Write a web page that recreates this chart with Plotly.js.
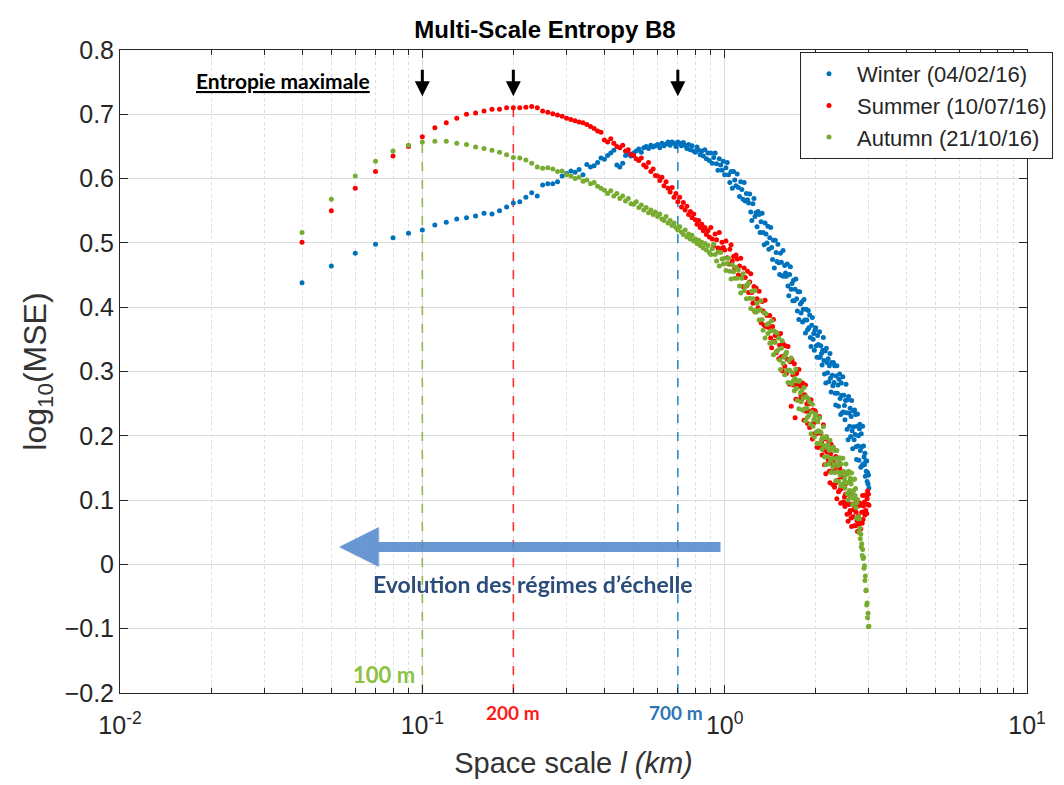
<!DOCTYPE html>
<html>
<head>
<meta charset="utf-8">
<script src="https://cdn.plot.ly/plotly-3.0.1.min.js"></script>
<style>html,body{margin:0;padding:0;background:#fff;}#chart{width:1064px;height:785px;}</style>
</head>
<body>
<div id="chart"></div>
<script>
// Space scale (km)
const scaleKm = [
0.04,0.05,0.06,0.07,0.08,0.09,
0.10,0.11,0.12,0.13,0.14,0.15,0.16,0.17,0.18,0.19,
0.20,0.21,0.22,0.23,0.24,0.25,0.26,0.27,0.28,0.29,
0.30,0.31,0.32,0.33,0.34,0.35,0.36,0.37,0.38,0.39,
0.40,0.41,0.42,0.43,0.44,0.45,0.46,0.47,0.48,0.49,
0.50,0.51,0.52,0.53,0.54,0.55,0.56,0.57,0.58,0.59,
0.60,0.61,0.62,0.63,0.64,0.65,0.66,0.67,0.68,0.69,
0.70,0.71,0.72,0.73,0.74,0.75,0.76,0.77,0.78,0.79,
0.80,0.81,0.82,0.83,0.84,0.85,0.86,0.87,0.88,0.89,
0.90,0.91,0.92,0.93,0.94,0.95,0.96,0.97,0.98,0.99,
1.00,1.01,1.02,1.03,1.04,1.05,1.06,1.07,1.08,1.09,
1.10,1.11,1.12,1.13,1.14,1.15,1.16,1.17,1.18,1.19,
1.20,1.21,1.22,1.23,1.24,1.25,1.26,1.27,1.28,1.29,
1.30,1.31,1.32,1.33,1.34,1.35,1.36,1.37,1.38,1.39,
1.40,1.41,1.42,1.43,1.44,1.45,1.46,1.47,1.48,1.49,
1.50,1.51,1.52,1.53,1.54,1.55,1.56,1.57,1.58,1.59,
1.60,1.61,1.62,1.63,1.64,1.65,1.66,1.67,1.68,1.69,
1.70,1.71,1.72,1.73,1.74,1.75,1.76,1.77,1.78,1.79,
1.80,1.81,1.82,1.83,1.84,1.85,1.86,1.87,1.88,1.89,
1.90,1.91,1.92,1.93,1.94,1.95,1.96,1.97,1.98,1.99,
2.00,2.01,2.02,2.03,2.04,2.05,2.06,2.07,2.08,2.09,
2.10,2.11,2.12,2.13,2.14,2.15,2.16,2.17,2.18,2.19,
2.20,2.21,2.22,2.23,2.24,2.25,2.26,2.27,2.28,2.29,
2.30,2.31,2.32,2.33,2.34,2.35,2.36,2.37,2.38,2.39,
2.40,2.41,2.42,2.43,2.44,2.45,2.46,2.47,2.48,2.49,
2.50,2.51,2.52,2.53,2.54,2.55,2.56,2.57,2.58,2.59,
2.60,2.61,2.62,2.63,2.64,2.65,2.66,2.67,2.68,2.69,
2.70,2.71,2.72,2.73,2.74,2.75,2.76,2.77,2.78,2.79,
2.80,2.81,2.82,2.83,2.84,2.85,2.86,2.87,2.88,2.89,
2.90,2.91,2.92,2.93,2.94,2.95,2.96,2.97,2.98,2.99,3.00
];

// log10(MSE) - Winter (04/02/16)
const winter = [
0.438,0.464,0.484,0.498,0.508,0.515,
0.520,0.528,0.532,0.537,0.539,0.542,0.546,0.545,0.550,0.556,
0.562,0.564,0.571,0.578,0.573,0.590,0.592,0.592,0.595,0.604,
0.608,0.612,0.610,0.614,0.606,0.622,0.618,0.620,0.625,0.632,
0.630,0.636,0.640,0.644,0.621,0.618,0.624,0.636,0.638,0.635,
0.640,0.643,0.646,0.641,0.648,0.650,0.647,0.652,0.649,0.651,
0.653,0.648,0.655,0.651,0.654,0.657,0.652,0.657,0.655,0.650,
0.657,0.655,0.651,0.656,0.652,0.647,0.653,0.645,0.651,0.643,
0.641,0.649,0.644,0.637,0.643,0.635,0.645,0.631,0.640,0.628,
0.640,0.624,0.633,0.640,0.623,0.613,0.631,0.621,0.613,0.627,
0.606,0.617,0.625,0.606,0.594,0.611,0.585,0.611,0.598,0.589,
0.607,0.586,0.572,0.595,0.583,0.568,0.594,0.565,0.577,0.567,
0.562,0.576,0.548,0.535,0.561,0.569,0.541,0.547,0.525,0.549,
0.544,0.516,0.533,0.546,0.516,0.497,0.531,0.514,0.500,0.526,
0.490,0.508,0.524,0.493,0.474,0.504,0.461,0.504,0.485,0.471,
0.498,0.469,0.451,0.484,0.470,0.449,0.488,0.448,0.465,0.453,
0.448,0.467,0.433,0.418,0.451,0.463,0.428,0.437,0.410,0.442,
0.410,0.428,0.444,0.413,0.394,0.424,0.381,0.424,0.405,0.391,
0.408,0.377,0.397,0.412,0.380,0.360,0.397,0.380,0.365,0.395,
0.368,0.388,0.353,0.339,0.372,0.384,0.350,0.359,0.333,0.364,
0.368,0.340,0.322,0.356,0.342,0.322,0.362,0.322,0.340,0.328,
0.310,0.333,0.353,0.317,0.296,0.332,0.282,0.336,0.314,0.298,
0.320,0.284,0.309,0.328,0.290,0.268,0.314,0.294,0.278,0.314,
0.283,0.309,0.266,0.248,0.293,0.309,0.266,0.279,0.246,0.288,
0.296,0.258,0.233,0.282,0.263,0.236,0.292,0.237,0.263,0.247,
0.225,0.255,0.280,0.236,0.210,0.256,0.194,0.261,0.235,0.215,
0.243,0.199,0.230,0.255,0.208,0.180,0.239,0.214,0.194,0.240,
0.202,0.233,0.183,0.163,0.215,0.234,0.184,0.200,0.162,0.211,
0.218,0.177,0.151,0.203,0.183,0.154,0.215,0.156,0.184,0.167,
0.155,0.173,0.137,0.161,0.145,0.161,0.129,0.143,0.125,0.139,0.119
];

// log10(MSE) - Summer (10/07/16)
const summer = [
0.501,0.550,0.585,0.611,0.635,0.650,
0.665,0.679,0.687,0.694,0.700,0.702,0.705,0.708,0.708,0.710,
0.710,0.710,0.711,0.712,0.710,0.705,0.703,0.701,0.699,0.697,
0.694,0.692,0.690,0.688,0.687,0.684,0.681,0.678,0.674,0.672,
0.660,0.657,0.662,0.655,0.650,0.648,0.652,0.643,0.645,0.638,
0.636,0.631,0.628,0.632,0.621,0.618,0.625,0.611,0.615,0.605,
0.604,0.597,0.602,0.589,0.595,0.585,0.579,0.586,0.571,0.577,
0.564,0.571,0.556,0.563,0.551,0.557,0.544,0.549,0.539,0.545,
0.536,0.529,0.535,0.524,0.529,0.519,0.524,0.513,0.519,0.509,
0.524,0.506,0.495,0.514,0.505,0.492,0.516,0.491,0.501,0.493,
0.489,0.503,0.477,0.467,0.490,0.497,0.472,0.479,0.460,0.481,
0.475,0.450,0.464,0.476,0.449,0.432,0.461,0.446,0.433,0.456,
0.423,0.439,0.452,0.423,0.406,0.432,0.393,0.430,0.413,0.399,
0.425,0.396,0.376,0.409,0.394,0.372,0.411,0.370,0.387,0.373,
0.368,0.387,0.352,0.337,0.370,0.381,0.347,0.356,0.329,0.360,
0.354,0.320,0.341,0.359,0.323,0.301,0.343,0.324,0.308,0.340,
0.297,0.319,0.339,0.302,0.280,0.315,0.246,0.318,0.295,0.279,
0.312,0.228,0.257,0.297,0.280,0.256,0.303,0.256,0.277,0.263,
0.257,0.282,0.240,0.224,0.264,0.279,0.238,0.250,0.219,0.257,
0.250,0.213,0.238,0.256,0.218,0.195,0.240,0.220,0.203,0.239,
0.236,0.203,0.182,0.222,0.205,0.182,0.230,0.183,0.204,0.190,
0.170,0.196,0.217,0.178,0.155,0.195,0.141,0.198,0.175,0.157,
0.163,0.189,0.145,0.127,0.172,0.187,0.144,0.157,0.124,0.165,
0.158,0.120,0.146,0.168,0.127,0.102,0.153,0.131,0.113,0.153,
0.149,0.116,0.095,0.136,0.119,0.096,0.144,0.097,0.119,0.105,
0.090,0.109,0.126,0.096,0.078,0.109,0.067,0.111,0.093,0.080,
0.084,0.105,0.072,0.059,0.094,0.107,0.074,0.085,0.060,0.093,
0.088,0.060,0.081,0.099,0.068,0.051,0.091,0.075,0.063,0.095,
0.095,0.070,0.055,0.092,0.081,0.064,0.107,0.070,0.091,0.082,
0.097,0.077,0.108,0.084,0.107,0.079,0.102,0.114,0.093,0.109,0.092
];

// log10(MSE) - Autumn (21/10/16)
const autumn = [
0.516,0.568,0.604,0.627,0.643,0.652,
0.657,0.658,0.658,0.655,0.653,0.649,0.647,0.644,0.641,0.637,
0.633,0.632,0.629,0.624,0.618,0.616,0.617,0.615,0.611,0.612,
0.606,0.604,0.600,0.602,0.596,0.598,0.592,0.594,0.588,0.585,
0.582,0.577,0.581,0.573,0.577,0.569,0.573,0.565,0.569,0.561,
0.560,0.564,0.555,0.559,0.551,0.555,0.547,0.551,0.544,0.548,
0.541,0.545,0.537,0.535,0.541,0.531,0.535,0.527,0.531,0.524,
0.520,0.525,0.517,0.513,0.520,0.509,0.514,0.506,0.512,0.503,
0.506,0.499,0.504,0.496,0.501,0.492,0.499,0.489,0.496,0.485,
0.482,0.491,0.498,0.482,0.472,0.486,0.464,0.485,0.475,0.467,
0.476,0.457,0.468,0.476,0.456,0.444,0.466,0.455,0.445,0.462,
0.445,0.458,0.433,0.422,0.445,0.452,0.426,0.433,0.413,0.435,
0.438,0.414,0.398,0.425,0.413,0.395,0.426,0.392,0.406,0.395,
0.380,0.396,0.410,0.381,0.364,0.391,0.352,0.390,0.373,0.359,
0.375,0.344,0.363,0.379,0.346,0.326,0.363,0.345,0.331,0.360,
0.333,0.352,0.318,0.303,0.336,0.348,0.313,0.322,0.295,0.327,
0.330,0.302,0.283,0.317,0.302,0.282,0.321,0.281,0.298,0.286,
0.270,0.289,0.304,0.274,0.255,0.285,0.242,0.286,0.267,0.253,
0.270,0.240,0.259,0.275,0.242,0.223,0.261,0.243,0.229,0.258,
0.232,0.252,0.218,0.203,0.237,0.249,0.215,0.225,0.198,0.230,
0.234,0.206,0.188,0.222,0.208,0.188,0.228,0.188,0.206,0.194,
0.179,0.198,0.214,0.185,0.167,0.197,0.155,0.199,0.182,0.168,
0.186,0.156,0.177,0.193,0.162,0.143,0.181,0.165,0.151,0.182,
0.156,0.177,0.143,0.130,0.165,0.177,0.144,0.154,0.129,0.161,
0.166,0.139,0.122,0.156,0.143,0.124,0.165,0.126,0.144,0.133,
0.119,0.139,0.156,0.127,0.110,0.141,0.100,0.145,0.128,0.115,
0.134,0.105,0.125,0.142,0.111,0.093,0.132,0.115,0.102,0.133,
0.107,0.118,0.088,0.072,0.096,0.101,0.071,0.074,0.050,0.071,
0.056,0.040,0.047,0.027,0.032,0.014,0.023,0.009,0.011,-0.006,
-0.002,-0.025,-0.018,-0.041,-0.040,-0.063,-0.060,-0.083,-0.076,-0.097,-0.096
];

const seriesNames = ['Winter (04/02/16)', 'Summer (10/07/16)', 'Autumn (21/10/16)'];
const seriesColors = ['#0072BD', '#FF0000', '#77AC30'];
const peakScales = [0.7, 0.2, 0.1];          // km, scale of maximal entropy
const peakLabels = ['700 m', '200 m', '100 m'];
const peakLabelColors = ['#2e75b6', '#ff1a1a', '#8cc23f'];
const arrowText = 'Evolution des régimes d’échelle';
const maxText = 'Entropie maximale';

const seriesData = [winter, summer, autumn];
const traces = [];

// dashed lines marking the scale of maximal entropy (drawn first, below the points)
seriesData.forEach((ys, i) => {
  const top = Math.max.apply(null, ys);
  traces.push({
    x: [peakScales[i], peakScales[i]], y: [-0.2, top],
    mode: 'lines', type: 'scatter', showlegend: false, hoverinfo: 'skip',
    line: {color: seriesColors[i], width: 1.6, dash: 'dash'}, opacity: 0.8
  });
});

seriesData.forEach((ys, i) => {
  traces.push({
    x: scaleKm, y: ys, name: seriesNames[i], type: 'scatter', mode: 'markers',
    marker: {color: seriesColors[i], size: 5}
  });
});

const minorTicks = [];
[0.01, 0.1, 1].forEach(d => { for (let k = 2; k <= 9; k++) minorTicks.push(+(d * k).toPrecision(3)); });

const labelFont = 'Lato, Open Sans, sans-serif';
const annotations = [];
// black arrows pointing to the maxima
peakScales.forEach(p => {
  annotations.push({
    x: Math.log10(p), y: 0.728, xref: 'x', yref: 'y', text: '', showarrow: true,
    ax: 0, ay: -28, arrowhead: 2, arrowsize: 1, arrowwidth: 3, arrowcolor: '#000', standoff: 0
  });
});
// labels of the peak scales
annotations.push({
  x: Math.log10(peakScales[2]), y: -0.2, xref: 'x', yref: 'y', text: '<b>' + peakLabels[2] + '</b>',
  showarrow: false, xanchor: 'right', yanchor: 'bottom', xshift: -5, yshift: 3,
  font: {family: labelFont, size: 22, color: peakLabelColors[2]}
});
[0, 1].forEach(i => {
  annotations.push({
    x: Math.log10(peakScales[i]), y: -0.2, xref: 'x', yref: 'y', text: '<b>' + peakLabels[i] + '</b>',
    showarrow: false, xanchor: 'center', yanchor: 'top', yshift: -6, xshift: i === 0 ? -2 : 0,
    font: {family: labelFont, size: 19, color: peakLabelColors[i]}
  });
});
annotations.push({
  x: (283 - 120) / 908, y: 0.752, xref: 'paper', yref: 'y', text: '<b><u>' + maxText + '</u></b>',
  showarrow: false, xanchor: 'center', yanchor: 'middle',
  font: {family: labelFont, size: 21, color: '#000'}
});
// big blue arrow
annotations.push({
  x: Math.log10(0.053), y: 0.027, xref: 'x', yref: 'y',
  ax: Math.log10(0.98), ay: 0.027, axref: 'x', ayref: 'y',
  text: '', showarrow: true, arrowhead: 2, arrowsize: 0.8, arrowwidth: 10,
  arrowcolor: 'rgba(84,137,203,0.88)', standoff: 0
});
annotations.push({
  x: Math.log10(0.232), y: -0.030, xref: 'x', yref: 'y', text: '<b>' + arrowText + '</b>',
  showarrow: false, xanchor: 'center', yanchor: 'middle',
  font: {family: labelFont, size: 23, color: '#2a4d7a'}
});

const layout = {
  width: 1064, height: 785,
  margin: {l: 120, r: 36, t: 50, b: 92},
  paper_bgcolor: '#fff', plot_bgcolor: '#fff',
  font: {family: 'Liberation Sans, Arial, sans-serif', color: '#262626'},
  title: {
    text: '<b>Multi-Scale Entropy B8</b>', x: 545 / 1064, xanchor: 'center', xref: 'container',
    y: 1 - 30 / 785, yanchor: 'middle', yref: 'container',
    font: {size: 24, color: '#000', family: 'Liberation Sans, Arial, sans-serif'}
  },
  xaxis: {
    type: 'log', range: [-2, 1],
    tickmode: 'array', tickvals: [0.01, 0.1, 1, 10],
    ticktext: ['10<sup>-2</sup>', '10<sup>-1</sup>', '10<sup>0</sup>', '10<sup>1</sup>'],
    tickfont: {size: 25, color: '#262626'}, ticklabelstandoff: 10,
    ticks: 'inside', ticklen: 8, tickcolor: '#262626',
    showline: true, linecolor: '#262626', linewidth: 1, mirror: 'ticks',
    showgrid: true, gridcolor: '#dcdcdc', gridwidth: 1, zeroline: false,
    minor: {tickmode: 'array', tickvals: minorTicks, ticks: 'inside', ticklen: 5, tickcolor: '#262626',
            showgrid: true, gridcolor: '#dedede', griddash: 'dot', gridwidth: 1},
    title: {text: 'Space scale <i>l (km)</i>', font: {size: 29, color: '#333'}, standoff: 14}
  },
  yaxis: {
    range: [-0.2, 0.8], dtick: 0.1, tick0: 0,
    tickfont: {size: 25, color: '#262626'},
    ticks: 'inside', ticklen: 8, tickcolor: '#262626',
    showline: true, linecolor: '#262626', linewidth: 1, mirror: 'ticks',
    showgrid: true, gridcolor: '#dcdcdc', gridwidth: 1, zeroline: false,
    title: {text: 'log<sub>10</sub>(MSE)', font: {size: 32, color: '#333'}, standoff: 8}
  },
  legend: {
    x: (800 - 120) / 908, y: (693 - 52) / 643, xanchor: 'left', yanchor: 'top',
    bgcolor: '#fff', bordercolor: '#262626', borderwidth: 1, itemwidth: 46,
    font: {size: 22, color: '#262626'}, tracegroupgap: 0
  },
  showlegend: true,
  annotations: annotations
};

Plotly.newPlot('chart', traces, layout, {displayModeBar: false, staticPlot: true});
</script>
</body>
</html>
